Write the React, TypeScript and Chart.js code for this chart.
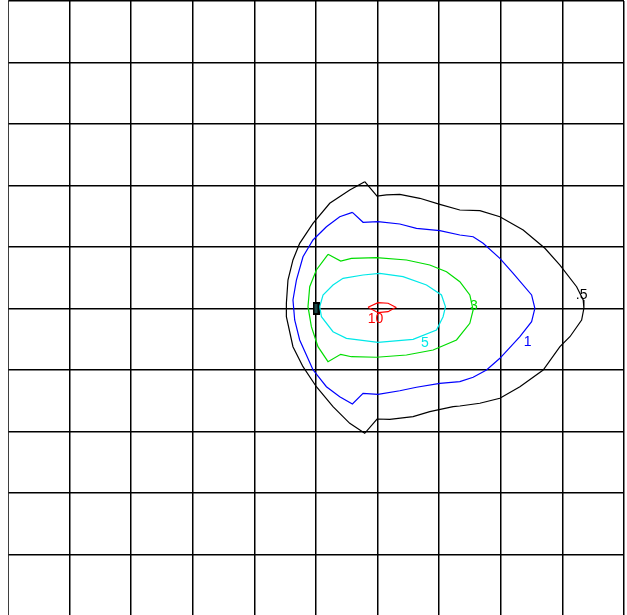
import React, { useEffect, useRef } from "react";
import { Chart, registerables } from "chart.js";

Chart.register(...registerables);

// Axis range and tick spacing
const axisMin = -5;
const axisMax = 5;
const tickStep = 1;

// Contour levels (x, y in data units)
const contourHalf: [number, number][] = [
  [0.791, 2.062], [0.991, 1.829], [1.144, 1.846], [1.36, 1.857], [1.685, 1.792],
  [2.01, 1.694], [2.335, 1.602], [2.66, 1.59], [2.985, 1.493], [3.363, 1.276],
  [3.716, 0.979], [3.96, 0.707], [4.231, 0.354], [4.338, 0.138], [4.349, 0.003],
  [4.312, -0.187], [4.122, -0.459], [3.96, -0.621], [3.688, -1.0], [3.31, -1.272],
  [2.985, -1.46], [2.66, -1.541], [2.335, -1.585], [2.226, -1.597], [1.847, -1.678],
  [1.576, -1.759], [1.198, -1.802], [0.991, -1.797], [0.791, -2.029], [0.548, -1.867],
  [0.276, -1.597], [0.006, -1.272], [-0.211, -0.946], [-0.374, -0.621], [-0.481, -0.133],
  [-0.481, 0.085], [-0.455, 0.463], [-0.374, 0.789], [-0.265, 1.06], [-0.049, 1.385],
  [0.223, 1.711], [0.548, 1.927], [0.791, 2.062],
];

const contourOne: [number, number][] = [
  [0.591, 1.564], [0.764, 1.402], [1.007, 1.411], [1.36, 1.374], [1.631, 1.304],
  [2.01, 1.265], [2.335, 1.195], [2.551, 1.167], [2.713, 1.06], [2.985, 0.816],
  [3.201, 0.572], [3.5, 0.22], [3.553, 0.003], [3.5, -0.215], [3.31, -0.459],
  [2.985, -0.81], [2.768, -1.0], [2.551, -1.119], [2.335, -1.19], [2.01, -1.216],
  [1.631, -1.281], [1.36, -1.337], [1.007, -1.395], [0.764, -1.379], [0.591, -1.553],
  [0.385, -1.434], [0.169, -1.272], [-0.049, -0.996], [-0.265, -0.512], [-0.346, -0.187],
  [-0.374, 0.138], [-0.318, 0.463], [-0.211, 0.842], [-0.049, 1.114], [0.169, 1.33],
  [0.385, 1.493], [0.591, 1.564],
];

const contourThree: [number, number][] = [
  [0.195, 0.881], [0.401, 0.772], [0.575, 0.816], [0.981, 0.826], [1.469, 0.789],
  [1.847, 0.707], [2.119, 0.598], [2.335, 0.436], [2.497, 0.22], [2.551, -0.024],
  [2.497, -0.241], [2.281, -0.512], [1.901, -0.675], [1.469, -0.756], [0.981, -0.793],
  [0.575, -0.784], [0.401, -0.745], [0.195, -0.865], [0.032, -0.621], [-0.075, -0.296],
  [-0.13, 0.029], [-0.102, 0.354], [0.006, 0.626], [0.195, 0.881],
];

const contourFive: [number, number][] = [
  [0.06, 0.029], [0.114, 0.22], [0.276, 0.382], [0.439, 0.491], [0.764, 0.545],
  [1.035, 0.572], [1.413, 0.517], [1.794, 0.382], [2.037, 0.22], [2.102, 0.029],
  [2.063, -0.133], [1.956, -0.35], [1.576, -0.501], [1.007, -0.55], [0.494, -0.485],
  [0.276, -0.377], [0.088, -0.133], [0.06, 0.029],
];

const contourTen: [number, number][] = [
  [0.845, 0.02], [1.007, 0.094], [1.17, 0.085], [1.295, 0.02], [1.17, -0.052],
  [1.007, -0.068], [0.845, 0.02],
];

const levelLabels = [".5", "1", "3", "5", "10"];
const levelColors = ["#000000", "#0000ff", "#00dd00", "#00e8e8", "#ff0000"];
const levelLabelPos: [number, number][] = [
  [4.312, 0.22],
  [3.435, -0.54],
  [2.562, 0.041],
  [1.766, -0.561],
  [0.965, -0.171],
];

// Source marker position
const markerPoint: [number, number][] = [[0, 0]];

const contours = [contourHalf, contourOne, contourThree, contourFive, contourTen];

const toXY = (arr: [number, number][]) => arr.map(([x, y]) => ({ x, y }));

export default function App() {
  const ref = useRef<HTMLCanvasElement | null>(null);

  useEffect(() => {
    if (!ref.current) return;

    const markerImg = document.createElement("canvas");
    markerImg.width = 7;
    markerImg.height = 13;
    const mctx = markerImg.getContext("2d")!;
    mctx.fillStyle = "#000000";
    mctx.fillRect(0, 0, 7, 13);
    mctx.fillStyle = "#1e4a4a";
    mctx.fillRect(2, 2, 3, 9);

    const labelPlugin = {
      id: "levelLabels",
      afterDatasetsDraw(chart: any) {
        const ctx = chart.ctx;
        const xs = chart.scales.x;
        const ys = chart.scales.y;
        ctx.save();
        ctx.font = "14px 'Liberation Sans', Arial, sans-serif";
        ctx.textAlign = "center";
        ctx.textBaseline = "middle";
        levelLabels.forEach((t, i) => {
          const [lx, ly] = levelLabelPos[i];
          ctx.fillStyle = levelColors[i];
          ctx.fillText(t, xs.getPixelForValue(lx), ys.getPixelForValue(ly));
        });
        ctx.restore();
      },
    };

    const datasets: any[] = contours.map((c, i) => ({
      label: levelLabels[i],
      data: toXY(c),
      showLine: true,
      borderColor: levelColors[i],
      borderWidth: 1.2,
      pointRadius: 0,
      pointHoverRadius: 0,
      fill: false,
      tension: 0,
    }));
    datasets.push({
      label: "source",
      data: toXY(markerPoint),
      showLine: false,
      pointStyle: markerImg,
      pointRadius: 5,
      pointHoverRadius: 5,
    });

    const gridOpts = {
      color: "#000000",
      lineWidth: 1.5,
      drawTicks: false,
      tickLength: 0,
    };

    const chart = new Chart(ref.current, {
      type: "scatter",
      data: { datasets },
      plugins: [labelPlugin],
      options: {
        animation: false,
        responsive: false,
        devicePixelRatio: 1,
        layout: { autoPadding: false, padding: { left: 0, top: 1, right: 1, bottom: 1 } },
        plugins: {
          legend: { display: false },
          tooltip: { enabled: false },
        },
        scales: {
          x: {
            type: "linear",
            min: axisMin,
            max: axisMax,
            ticks: { display: false, stepSize: tickStep },
            grid: gridOpts,
            border: { display: true, color: "#000000", width: 1.5 },
          },
          y: {
            type: "linear",
            min: axisMin,
            max: axisMax,
            ticks: { display: false, stepSize: tickStep },
            grid: gridOpts,
            border: { display: true, color: "#000000", width: 1.5 },
          },
        },
      },
    } as any);

    return () => chart.destroy();
  }, []);

  return (
    <div
      style={{
        position: "absolute",
        left: 8,
        top: 0,
        width: 619,
        height: 615,
        overflow: "hidden",
        background: "#ffffff",
      }}
    >
      <canvas ref={ref} width={617} height={617} style={{ display: "block" }} />
    </div>
  );
}
